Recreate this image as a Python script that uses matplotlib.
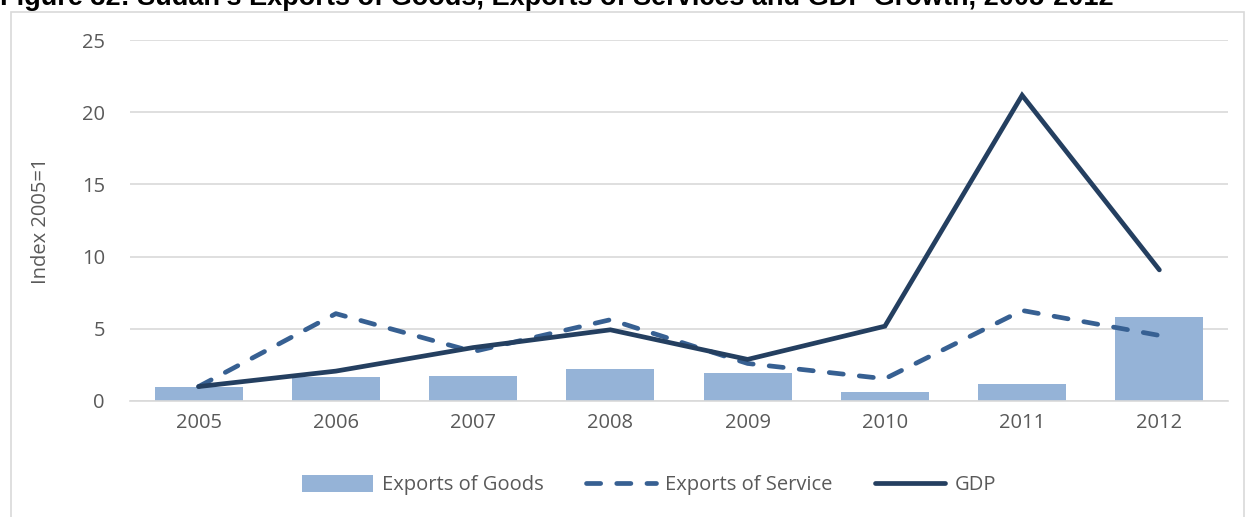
"""
Sudan exports of goods / services and GDP growth index, 2005-2012.
"""

import matplotlib
matplotlib.use("Agg")
import matplotlib.pyplot as plt
from matplotlib.patches import Rectangle
import numpy as np

plt.rcParams["font.family"] = ["Open Sans", "DejaVu Sans"]

# --- 数据 ---
years = ["2005", "2006", "2007", "2008", "2009", "2010", "2011", "2012"]
goods = [1.0, 1.67, 1.73, 2.19, 1.95, 0.61, 1.21, 5.82]
services = [1.0, 6.05, 3.42, 5.63, 2.6, 1.54, 6.27, 4.54]
gdp = [1.0, 2.07, 3.7, 4.93, 2.88, 5.18, 21.17, 9.08]

GOODS_C = "#95B3D7"
SERV_C = "#376092"
GDP_C = "#243F60"
GRID_C = "#D9D9D9"
TEXT_C = "#595959"
FS = 14.5

fig = plt.figure(figsize=(12.48, 5.17), dpi=100)
ax = fig.add_axes([130 / 1248, 1 - 401 / 517, 1098 / 1248, 361 / 517])

x = np.arange(len(years))
b = ax.bar(x, goods, width=0.64, color=GOODS_C, label="Exports of Goods", zorder=2)
l1, = ax.plot(x, services, color=SERV_C, lw=3.4, dashes=(3.0, 3.4),
              dash_capstyle="round", label="Exports of Service", zorder=3)
l2, = ax.plot(x, gdp, color=GDP_C, lw=3.4, solid_capstyle="round",
              solid_joinstyle="miter", label="GDP", zorder=4)

ax.set_xlim(-0.5, 7.5)
ax.set_ylim(0, 25)
ax.set_yticks(range(0, 26, 5))
ax.set_xticks(x)
ax.set_xticklabels(years)
ax.yaxis.grid(True, color=GRID_C, lw=1.2, zorder=0)
ax.set_axisbelow(True)
for s in ["top", "right", "left"]:
    ax.spines[s].set_visible(False)
ax.spines["bottom"].set_color(GRID_C)
ax.spines["bottom"].set_linewidth(1.2)
ax.tick_params(length=0, labelsize=FS, colors=TEXT_C, pad=9)
ax.tick_params(axis="y", pad=18)
ax.set_ylabel("Index 2005=1", fontsize=FS, color=TEXT_C, labelpad=22)

leg = fig.legend([b, l1, l2], ["Exports of Goods", "Exports of Service", "GDP"],
                 loc="center", bbox_to_anchor=(0.52, 1 - 485 / 517), ncol=3,
                 frameon=False, fontsize=FS, handlelength=3.5,
                 handletextpad=0.45, columnspacing=2.1, handleheight=0.9)
for t in leg.get_texts():
    t.set_color(TEXT_C)

# 图框
fig.patches.append(Rectangle((11 / 1248, -0.1), 1233 / 1248, 1.1 - 12 / 517,
                             transform=fig.transFigure, fill=False,
                             edgecolor=GRID_C, lw=1.2))

# 标题（上半部分被裁掉，与原图一致）
fig.text(0.0, 1 - 5 / 517,
         "Figure 32: Sudan's Exports of Goods, Exports of Services and GDP Growth, 2005-2012",
         family=["Liberation Sans", "DejaVu Sans"], fontsize=19.5, weight="bold",
         va="baseline", ha="left", color="black")

fig.savefig("out.png", dpi=100)
